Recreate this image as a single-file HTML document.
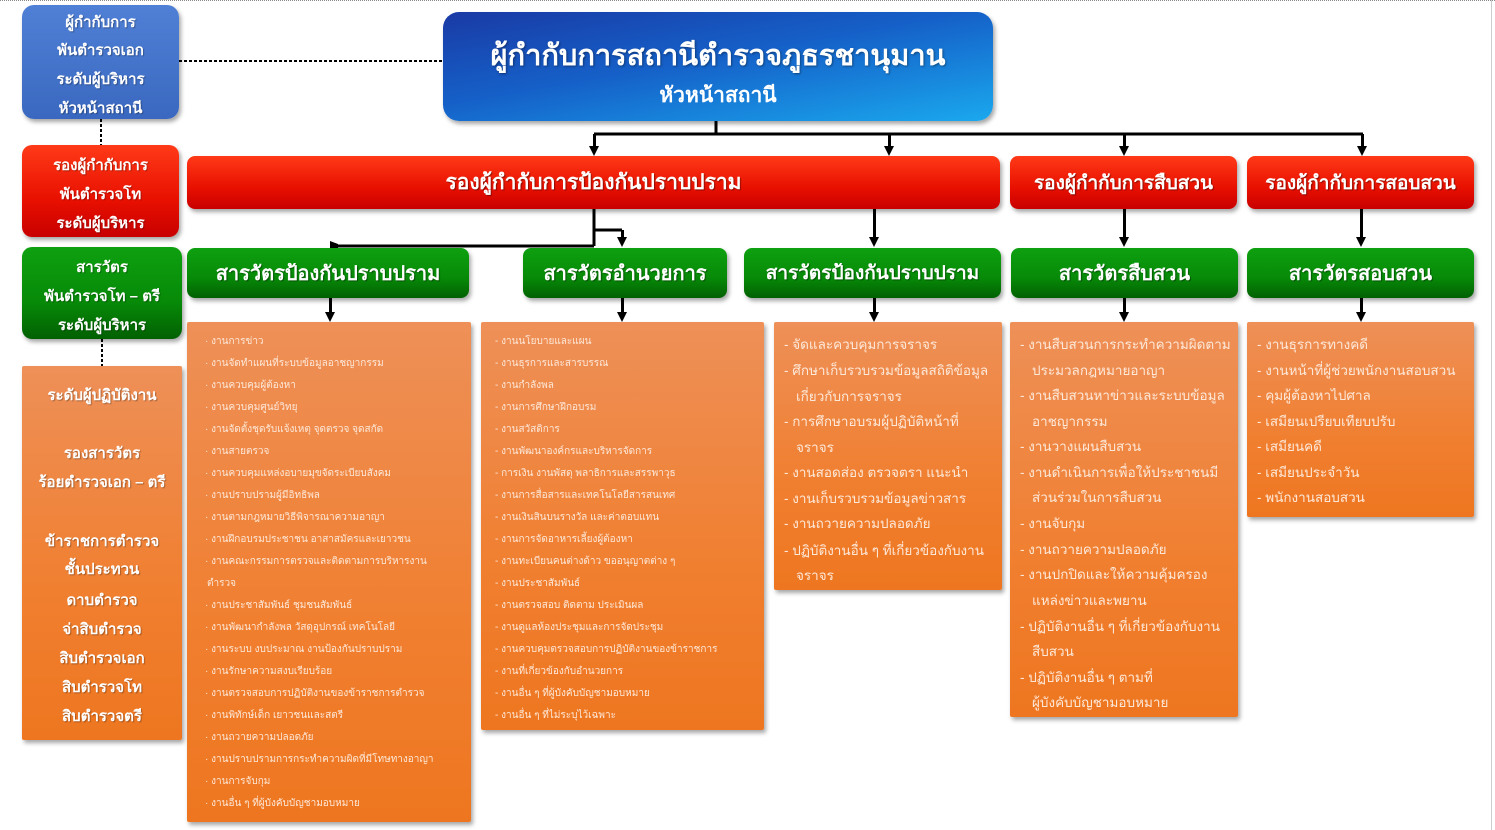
<!DOCTYPE html>
<html><head><meta charset="utf-8">
<style>
*{margin:0;padding:0;box-sizing:border-box}
body{width:1495px;height:830px;background:#fff;position:relative;overflow:hidden;font-family:"Liberation Sans","DejaVu Sans",sans-serif;color:#fff}
.b{position:absolute;border-radius:8px;box-shadow:2px 3px 4px rgba(0,0,0,.35);text-align:center;white-space:nowrap}
.red{background:linear-gradient(#ff3a18,#e81000 60%,#c80000)}
.grn{background:linear-gradient(#0ea010,#078a08 60%,#026002)}
.org{background:linear-gradient(#ee9058,#f07f30 60%,#ee7620);border-radius:2px}
.lbl{display:flex;align-items:center;justify-content:center;font-size:21px;font-weight:bold;text-shadow:1px 1px 1px rgba(0,0,0,.4)}
.ln{position:absolute;white-space:nowrap;color:#fde8d8}
.s{font-size:10px}
.m{font-size:13.5px}
.lt{position:absolute;left:0;width:100%;text-align:center;font-size:15px;font-weight:bold;text-shadow:1px 1px 1px rgba(0,0,0,.3)}
</style></head><body>
<div style="position:absolute;left:0;top:0;width:1495px;border-top:1px dotted #888"></div>
<div style="position:absolute;left:1491px;top:0;height:830px;border-left:1px solid #ccc"></div>

<svg width="1495" height="830" style="position:absolute;left:0;top:0">
<g stroke="#000" stroke-width="2" stroke-dasharray="3,2" fill="none">
<line x1="179" y1="61" x2="443" y2="61"/>
<line x1="101" y1="119" x2="101" y2="146"/>
<line x1="102" y1="339" x2="102" y2="366"/>
</g>
<g stroke="#000" stroke-width="3" fill="none">
<line x1="716" y1="121" x2="716" y2="134"/>
<line x1="594" y1="134" x2="1363" y2="134"/>
<line x1="594" y1="209" x2="594" y2="246"/>
<line x1="333" y1="246" x2="594" y2="246"/>
<line x1="594" y1="230" x2="622" y2="230"/>
</g>
<g fill="#000">
<rect x="593" y="134" width="3" height="14"/><path d="M589,146 L599,146 L594,156z"/>
<rect x="888" y="134" width="3" height="14"/><path d="M884,146 L894,146 L889,156z"/>
<rect x="1123" y="134" width="3" height="14"/><path d="M1119,146 L1129,146 L1124,156z"/>
<rect x="1361" y="134" width="3" height="14"/><path d="M1357,146 L1367,146 L1362,156z"/>
<rect x="621" y="230" width="3" height="9"/><path d="M617,237 L627,237 L622,247z"/>
<path d="M330,241 L338,244 L338,248 L330,248z"/>
<rect x="873" y="209" width="3" height="29"/><path d="M869,237 L879,237 L874,247z"/>
<rect x="1123" y="209" width="3" height="29"/><path d="M1119,237 L1129,237 L1124,247z"/>
<rect x="1360" y="209" width="3" height="29"/><path d="M1356,237 L1366,237 L1361,247z"/>
<rect x="329" y="298" width="3" height="15"/><path d="M325,312 L335,312 L330,322z"/>
<rect x="621" y="298" width="3" height="15"/><path d="M617,312 L627,312 L622,322z"/>
<rect x="873" y="298" width="3" height="15"/><path d="M869,312 L879,312 L874,322z"/>
<rect x="1123" y="298" width="3" height="15"/><path d="M1119,312 L1129,312 L1124,322z"/>
<rect x="1360" y="298" width="3" height="15"/><path d="M1356,312 L1366,312 L1361,322z"/>
</g>
</svg>

<div class="b" style="left:22px;top:5px;width:157px;height:114px;background:linear-gradient(#4f80d6,#3a68c0);border-radius:12px">
<div class="lt" style="top:5px">ผู้กำกับการ</div><div class="lt" style="top:33px">พันตำรวจเอก</div><div class="lt" style="top:62px">ระดับผู้บริหาร</div><div class="lt" style="top:91px">หัวหน้าสถานี</div></div>
<div class="b red" style="left:22px;top:145px;width:157px;height:92px;border-radius:10px">
<div class="lt" style="top:8px">รองผู้กำกับการ</div><div class="lt" style="top:37px">พันตำรวจโท</div><div class="lt" style="top:66px">ระดับผู้บริหาร</div></div>
<div class="b grn" style="left:22px;top:247px;width:160px;height:92px;border-radius:10px">
<div class="lt" style="top:8px">สารวัตร</div><div class="lt" style="top:37px">พันตำรวจโท – ตรี</div><div class="lt" style="top:66px">ระดับผู้บริหาร</div></div>
<div class="b org" style="left:22px;top:366px;width:160px;height:374px">
<div class="lt" style="top:17px">ระดับผู้ปฏิบัติงาน</div>
<div class="lt" style="top:75px">รองสารวัตร</div>
<div class="lt" style="top:104px">ร้อยตำรวจเอก – ตรี</div>
<div class="lt" style="top:163px">ข้าราชการตำรวจ</div>
<div class="lt" style="top:191px">ชั้นประทวน</div>
<div class="lt" style="top:222px">ดาบตำรวจ</div>
<div class="lt" style="top:251px">จ่าสิบตำรวจ</div>
<div class="lt" style="top:280px">สิบตำรวจเอก</div>
<div class="lt" style="top:309px">สิบตำรวจโท</div>
<div class="lt" style="top:338px">สิบตำรวจตรี</div>
</div>

<div class="b" style="left:443px;top:12px;width:550px;height:109px;border-radius:16px;background:linear-gradient(170deg,#1a3aa5 0%,#1560c8 45%,#1aa8ee 100%)">
<div style="position:absolute;left:0;width:100%;top:20px;font-size:29px;font-weight:bold;text-shadow:1px 1px 2px rgba(0,0,0,.4)">ผู้กำกับการสถานีตำรวจภูธรชานุมาน</div>
<div style="position:absolute;left:0;width:100%;top:67px;font-size:21px;font-weight:bold">หัวหน้าสถานี</div></div>

<div class="b red lbl" style="left:187px;top:156px;width:813px;height:53px">รองผู้กำกับการป้องกันปราบปราม</div>
<div class="b red lbl" style="left:1010px;top:156px;width:227px;height:53px;font-size:19px">รองผู้กำกับการสืบสวน</div>
<div class="b red lbl" style="left:1247px;top:156px;width:227px;height:53px;font-size:19px">รองผู้กำกับการสอบสวน</div>

<div class="b grn lbl" style="left:187px;top:248px;width:282px;height:50px;font-size:20px">สารวัตรป้องกันปราบปราม</div>
<div class="b grn lbl" style="left:523px;top:248px;width:204px;height:50px;font-size:20px">สารวัตรอำนวยการ</div>
<div class="b grn lbl" style="left:744px;top:248px;width:257px;height:50px;font-size:19px">สารวัตรป้องกันปราบปราม</div>
<div class="b grn lbl" style="left:1011px;top:248px;width:227px;height:50px;font-size:20px">สารวัตรสืบสวน</div>
<div class="b grn lbl" style="left:1247px;top:248px;width:227px;height:50px;font-size:20px">สารวัตรสอบสวน</div>

<div class="b org" style="left:187px;top:322px;width:284px;height:500px;text-align:left">
<div class="ln s" style="left:18px;top:12px">· งานการข่าว</div>
<div class="ln s" style="left:18px;top:34px">· งานจัดทำแผนที่ระบบข้อมูลอาชญากรรม</div>
<div class="ln s" style="left:18px;top:56px">· งานควบคุมผู้ต้องหา</div>
<div class="ln s" style="left:18px;top:78px">· งานควบคุมศูนย์วิทยุ</div>
<div class="ln s" style="left:18px;top:100px">· งานจัดตั้งชุดรับแจ้งเหตุ จุดตรวจ จุดสกัด</div>
<div class="ln s" style="left:18px;top:122px">· งานสายตรวจ</div>
<div class="ln s" style="left:18px;top:144px">· งานควบคุมแหล่งอบายมุขจัดระเบียบสังคม</div>
<div class="ln s" style="left:18px;top:166px">· งานปราบปรามผู้มีอิทธิพล</div>
<div class="ln s" style="left:18px;top:188px">· งานตามกฎหมายวิธีพิจารณาความอาญา</div>
<div class="ln s" style="left:18px;top:210px">· งานฝึกอบรมประชาชน อาสาสมัครและเยาวชน</div>
<div class="ln s" style="left:18px;top:232px">· งานคณะกรรมการตรวจและติดตามการบริหารงาน</div>
<div class="ln s" style="left:20px;top:254px">ตำรวจ</div>
<div class="ln s" style="left:18px;top:276px">· งานประชาสัมพันธ์ ชุมชนสัมพันธ์</div>
<div class="ln s" style="left:18px;top:298px">· งานพัฒนากำลังพล วัสดุอุปกรณ์ เทคโนโลยี</div>
<div class="ln s" style="left:18px;top:320px">· งานระบบ งบประมาณ งานป้องกันปราบปราม</div>
<div class="ln s" style="left:18px;top:342px">· งานรักษาความสงบเรียบร้อย</div>
<div class="ln s" style="left:18px;top:364px">· งานตรวจสอบการปฏิบัติงานของข้าราชการตำรวจ</div>
<div class="ln s" style="left:18px;top:386px">· งานพิทักษ์เด็ก เยาวชนและสตรี</div>
<div class="ln s" style="left:18px;top:408px">· งานถวายความปลอดภัย</div>
<div class="ln s" style="left:18px;top:430px">· งานปราบปรามการกระทำความผิดที่มีโทษทางอาญา</div>
<div class="ln s" style="left:18px;top:452px">· งานการจับกุม</div>
<div class="ln s" style="left:18px;top:474px">· งานอื่น ๆ ที่ผู้บังคับบัญชามอบหมาย</div>
</div>

<div class="b org" style="left:481px;top:322px;width:283px;height:408px;text-align:left">
<div class="ln s" style="left:14px;top:12px">- งานนโยบายและแผน</div>
<div class="ln s" style="left:14px;top:34px">- งานธุรการและสารบรรณ</div>
<div class="ln s" style="left:14px;top:56px">- งานกำลังพล</div>
<div class="ln s" style="left:14px;top:78px">- งานการศึกษาฝึกอบรม</div>
<div class="ln s" style="left:14px;top:100px">- งานสวัสดิการ</div>
<div class="ln s" style="left:14px;top:122px">- งานพัฒนาองค์กรและบริหารจัดการ</div>
<div class="ln s" style="left:14px;top:144px">- การเงิน งานพัสดุ พลาธิการและสรรพาวุธ</div>
<div class="ln s" style="left:14px;top:166px">- งานการสื่อสารและเทคโนโลยีสารสนเทศ</div>
<div class="ln s" style="left:14px;top:188px">- งานเงินสินบนรางวัล และค่าตอบแทน</div>
<div class="ln s" style="left:14px;top:210px">- งานการจัดอาหารเลี้ยงผู้ต้องหา</div>
<div class="ln s" style="left:14px;top:232px">- งานทะเบียนคนต่างด้าว ขออนุญาตต่าง ๆ</div>
<div class="ln s" style="left:14px;top:254px">- งานประชาสัมพันธ์</div>
<div class="ln s" style="left:14px;top:276px">- งานตรวจสอบ ติดตาม ประเมินผล</div>
<div class="ln s" style="left:14px;top:298px">- งานดูแลห้องประชุมและการจัดประชุม</div>
<div class="ln s" style="left:14px;top:320px">- งานควบคุมตรวจสอบการปฏิบัติงานของข้าราชการ</div>
<div class="ln s" style="left:14px;top:342px">- งานที่เกี่ยวข้องกับอำนวยการ</div>
<div class="ln s" style="left:14px;top:364px">- งานอื่น ๆ ที่ผู้บังคับบัญชามอบหมาย</div>
<div class="ln s" style="left:14px;top:386px">- งานอื่น ๆ ที่ไม่ระบุไว้เฉพาะ</div>
</div>

<div class="b org" style="left:774px;top:322px;width:228px;height:268px;text-align:left">
<div class="ln m" style="left:10px;top:11px">- จัดและควบคุมการจราจร</div>
<div class="ln m" style="left:10px;top:37px">- ศึกษาเก็บรวบรวมข้อมูลสถิติข้อมูล</div>
<div class="ln m" style="left:22px;top:63px">เกี่ยวกับการจราจร</div>
<div class="ln m" style="left:10px;top:88px">- การศึกษาอบรมผู้ปฏิบัติหน้าที่</div>
<div class="ln m" style="left:22px;top:114px">จราจร</div>
<div class="ln m" style="left:10px;top:139px">- งานสอดส่อง ตรวจตรา แนะนำ</div>
<div class="ln m" style="left:10px;top:165px">- งานเก็บรวบรวมข้อมูลข่าวสาร</div>
<div class="ln m" style="left:10px;top:190px">- งานถวายความปลอดภัย</div>
<div class="ln m" style="left:10px;top:217px">- ปฏิบัติงานอื่น ๆ ที่เกี่ยวข้องกับงาน</div>
<div class="ln m" style="left:22px;top:242px">จราจร</div>
</div>

<div class="b org" style="left:1010px;top:322px;width:228px;height:395px;text-align:left">
<div class="ln m" style="left:10px;top:11px">- งานสืบสวนการกระทำความผิดตาม</div>
<div class="ln m" style="left:22px;top:37px">ประมวลกฎหมายอาญา</div>
<div class="ln m" style="left:10px;top:62px">- งานสืบสวนหาข่าวและระบบข้อมูล</div>
<div class="ln m" style="left:22px;top:88px">อาชญากรรม</div>
<div class="ln m" style="left:10px;top:113px">- งานวางแผนสืบสวน</div>
<div class="ln m" style="left:10px;top:139px">- งานดำเนินการเพื่อให้ประชาชนมี</div>
<div class="ln m" style="left:22px;top:164px">ส่วนร่วมในการสืบสวน</div>
<div class="ln m" style="left:10px;top:190px">- งานจับกุม</div>
<div class="ln m" style="left:10px;top:216px">- งานถวายความปลอดภัย</div>
<div class="ln m" style="left:10px;top:241px">- งานปกปิดและให้ความคุ้มครอง</div>
<div class="ln m" style="left:22px;top:267px">แหล่งข่าวและพยาน</div>
<div class="ln m" style="left:10px;top:293px">- ปฏิบัติงานอื่น ๆ ที่เกี่ยวข้องกับงาน</div>
<div class="ln m" style="left:22px;top:318px">สืบสวน</div>
<div class="ln m" style="left:10px;top:344px">- ปฏิบัติงานอื่น ๆ ตามที่</div>
<div class="ln m" style="left:22px;top:369px">ผู้บังคับบัญชามอบหมาย</div>
</div>

<div class="b org" style="left:1247px;top:322px;width:227px;height:195px;text-align:left">
<div class="ln m" style="left:10px;top:11px">- งานธุรการทางคดี</div>
<div class="ln m" style="left:10px;top:37px">- งานหน้าที่ผู้ช่วยพนักงานสอบสวน</div>
<div class="ln m" style="left:10px;top:62px">- คุมผู้ต้องหาไปศาล</div>
<div class="ln m" style="left:10px;top:88px">- เสมียนเปรียบเทียบปรับ</div>
<div class="ln m" style="left:10px;top:113px">- เสมียนคดี</div>
<div class="ln m" style="left:10px;top:139px">- เสมียนประจำวัน</div>
<div class="ln m" style="left:10px;top:164px">- พนักงานสอบสวน</div>
</div>
</body></html>
